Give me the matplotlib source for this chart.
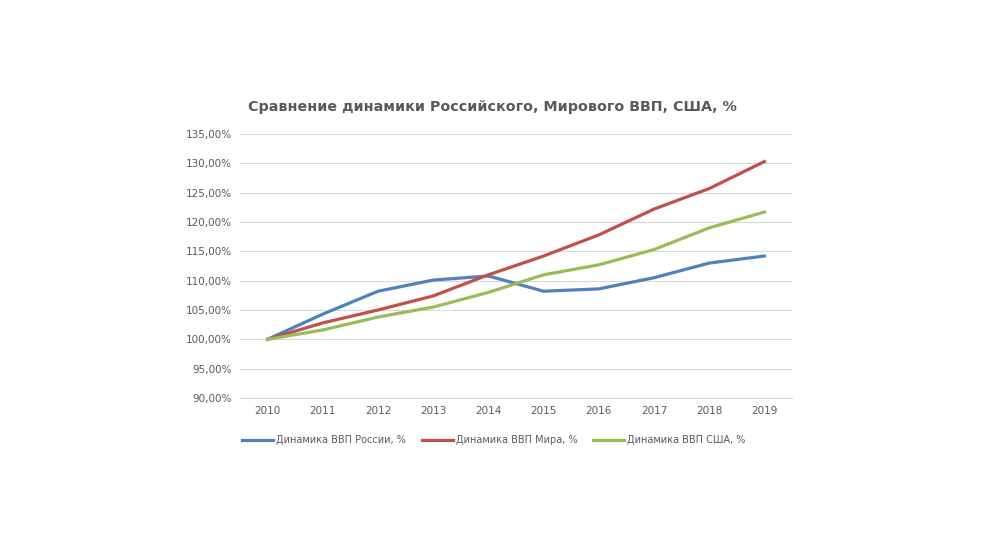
import matplotlib
matplotlib.use("Agg")
import matplotlib.pyplot as plt
from matplotlib.ticker import FuncFormatter

years = [2010, 2011, 2012, 2013, 2014, 2015, 2016, 2017, 2018, 2019]
russia = [100.0, 104.3, 108.2, 110.1, 110.8, 108.2, 108.6, 110.5, 113.0, 114.2]
world = [100.0, 102.8, 105.0, 107.4, 111.0, 114.2, 117.8, 122.2, 125.7, 130.3]
usa = [100.0, 101.6, 103.8, 105.5, 108.0, 111.0, 112.7, 115.3, 119.0, 121.7]
labels = ["Динамика ВВП России, %", "Динамика ВВП Мира, %", "Динамика ВВП США, %"]
colors = ["#4F81BD", "#C0504D", "#9BBB59"]

W, H = 991, 549
fig = plt.figure(figsize=(W/100, H/100), dpi=100)
ax = fig.add_axes([240/W, 1-398/H, (792-240)/W, (398-134)/H])
x = list(range(len(years)))
for s, l, c in zip([russia, world, usa], labels, colors):
    ax.plot(x, s, color=c, lw=2.3, label=l)
ax.set_xlim(-0.5, len(years)-0.5)
ax.set_ylim(90, 135)
ax.set_yticks(range(90, 136, 5))
ax.yaxis.set_major_formatter(FuncFormatter(lambda v, p: f"{v:.2f}%".replace(".", ",")))
ax.set_xticks(x)
ax.set_xticklabels([str(y) for y in years])
ax.grid(axis="y", color="#D9D9D9", lw=0.8)
for sp in ["top", "right", "left"]:
    ax.spines[sp].set_visible(False)
ax.spines["bottom"].set_color("#D9D9D9")
ax.tick_params(length=0, labelsize=7.5, colors="#595959", pad=6)
fig.text(492/W, 1-107/H, "Сравнение динамики Российского, Мирового ВВП, США, %",
         ha="center", va="center", fontsize=10.3, fontweight="bold", color="#595959")
ax.legend(loc="center", bbox_to_anchor=(0.46, (440-398)/(134-398)), ncol=3, frameon=False,
          fontsize=7, labelcolor="#595959", columnspacing=1.6, handlelength=3.2,
          handletextpad=0.3)
fig.savefig("out.png", dpi=100, facecolor="white")
